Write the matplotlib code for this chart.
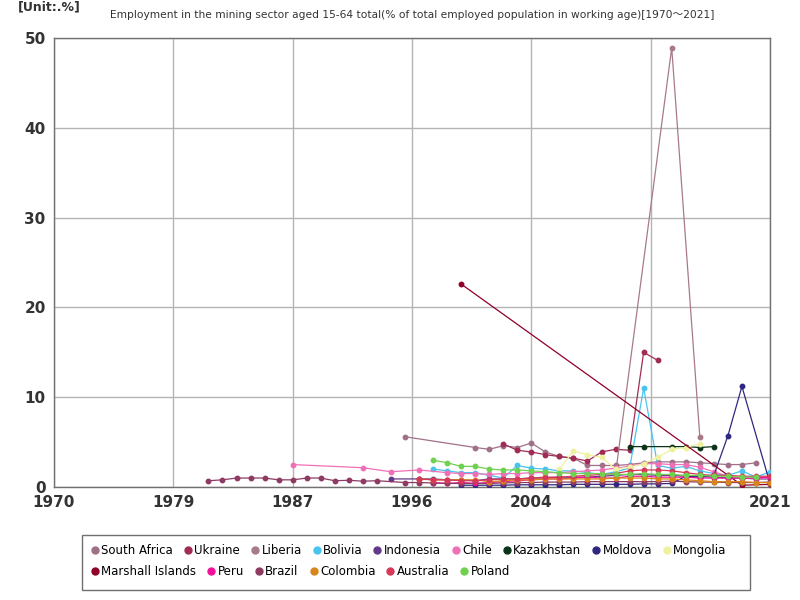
import matplotlib
matplotlib.use("Agg")
import matplotlib.pyplot as plt
from matplotlib.lines import Line2D
from matplotlib.patches import Rectangle

plt.rcParams['font.family'] = ['DejaVu Sans', 'Noto Sans CJK JP']

# data (percent of employed population, ages 15-64)
south_africa_years = [1995, 2000, 2001, 2002, 2003, 2004, 2005, 2006, 2007, 2008, 2009, 2010,
                      2011, 2012, 2013, 2014, 2015, 2016, 2017, 2018, 2019, 2020]
south_africa = [5.6, 4.4, 4.2, 4.6, 4.4, 4.9, 3.9, 3.4, 3.2, 2.4, 2.4, 2.4,
                2.5, 2.7, 2.8, 2.8, 2.8, 2.7, 2.6, 2.5, 2.5, 2.7]

ukraine_years = [2002, 2003, 2004, 2005, 2006, 2007, 2008, 2009, 2010, 2011, 2012, 2013]
ukraine = [4.8, 4.1, 3.9, 3.6, 3.4, 3.2, 2.9, 3.9, 4.2, 4.1, 15.0, 14.1]

liberia_years = [2010, 2014, 2016]
liberia = [1.5, 48.9, 5.6]

bolivia_years = list(range(1997, 2022))
bolivia = [2.0, 1.8, 1.6, 1.6, 1.3, 1.0, 2.4, 2.1, 2.0, 1.8, 1.8, 1.6, 1.4, 1.7, 2.1,
           11.0, 2.4, 2.1, 2.3, 1.8, 1.5, 1.3, 1.8, 1.1, 1.7]

indonesia_years = [1994, 1996, 1997, 1998, 1999, 2000, 2001, 2002, 2003, 2004, 2005, 2006,
                   2007, 2008, 2009, 2010, 2011, 2012, 2013, 2014, 2015, 2016, 2017, 2018,
                   2019, 2020, 2021]
indonesia = [0.9, 0.9, 0.9, 0.8, 0.8, 0.7, 0.9, 0.9, 0.9, 1.0, 1.0, 1.1,
             1.1, 1.1, 1.2, 1.3, 1.4, 1.4, 1.3, 1.3, 1.2, 1.2, 1.1, 1.0,
             1.0, 0.9, 0.9]

chile_years = [1987, 1992, 1994, 1996, 1998, 1999, 2000, 2001, 2002, 2003, 2004, 2005,
               2006, 2007, 2008, 2009, 2010, 2011, 2012, 2013, 2014, 2015, 2016, 2017,
               2018, 2019, 2020, 2021]
chile = [2.5, 2.15, 1.7, 1.9, 1.6, 1.5, 1.5, 1.4, 1.5, 1.5, 1.6, 1.6,
         1.6, 1.7, 1.8, 1.9, 2.1, 2.3, 2.6, 2.6, 2.5, 2.5, 2.2, 1.7,
         1.2, 1.0, 1.0, 1.0]

kazakhstan_years = [2011, 2012, 2014, 2015, 2016, 2017]
kazakhstan = [4.5, 4.5, 4.5, 4.5, 4.4, 4.5]

moldova_years = [1999, 2000, 2001, 2002, 2003, 2004, 2005, 2006, 2007, 2008, 2009, 2010,
                 2011, 2012, 2013, 2014, 2015, 2016, 2017, 2018, 2019, 2021]
moldova = [0.2, 0.2, 0.2, 0.2, 0.25, 0.25, 0.25, 0.25, 0.3, 0.3, 0.3, 0.3,
           0.3, 0.35, 0.35, 0.4, 1.2, 1.1, 1.3, 5.7, 11.2, 0.4]

mongolia_years = [2006, 2007, 2008, 2009, 2010, 2011, 2012, 2013, 2014, 2015, 2016]
mongolia = [2.0, 4.0, 3.6, 3.3, 2.0, 2.2, 2.6, 3.3, 4.2, 4.4, 4.8]

marshall_years = [1999, 2019, 2021]
marshall = [22.6, 0.2, 0.3]

peru_years = list(range(1997, 2022))
peru = [0.5, 0.4, 0.5, 0.4, 0.5, 0.6, 0.7, 0.8, 0.9, 0.9, 1.0, 1.1, 1.0, 1.0, 1.2,
        1.2, 1.1, 1.1, 1.1, 1.0, 1.0, 1.0, 1.0, 1.0, 1.1]

brazil_years = [1981, 1982, 1983, 1984, 1985, 1986, 1987, 1988, 1989, 1990, 1991, 1992,
                1993, 1995, 1996, 1997, 1998, 1999, 2001, 2002, 2003, 2004, 2005, 2006,
                2007, 2008, 2009, 2011, 2012, 2013, 2014, 2015, 2016, 2017, 2018, 2019,
                2020, 2021]
brazil = [0.7, 0.8, 1.0, 1.0, 1.0, 0.8, 0.8, 1.0, 1.0, 0.7, 0.75, 0.65,
          0.7, 0.5, 0.5, 0.45, 0.4, 0.4, 0.4, 0.45, 0.5, 0.5, 0.55, 0.55,
          0.55, 0.6, 0.6, 0.6, 0.6, 0.6, 0.65, 0.6, 0.55, 0.55, 0.5, 0.5,
          0.5, 0.55]

colombia_years = list(range(1996, 2022))
colombia = [0.9, 0.8, 0.8, 0.8, 0.8, 0.6, 0.7, 0.8, 0.8, 0.9, 0.9, 0.9, 0.9, 0.9, 1.0,
            1.0, 1.0, 0.9, 0.9, 0.8, 0.7, 0.6, 0.6, 0.6, 0.5, 0.5]

australia_years = list(range(1996, 2022))
australia = [0.9, 0.8, 0.8, 0.7, 0.7, 0.8, 0.9, 0.9, 1.0, 1.1, 1.1, 1.2, 1.3, 1.4, 1.5,
             1.8, 1.9, 1.9, 1.8, 1.6, 1.4, 1.3, 1.3, 1.2, 1.2, 1.2]

poland_years = list(range(1997, 2021))
poland = [3.0, 2.7, 2.3, 2.3, 2.0, 1.9, 1.9, 1.8, 1.7, 1.6, 1.5, 1.5, 1.5, 1.4, 1.4,
          1.5, 1.4, 1.4, 1.3, 1.3, 1.2, 1.2, 1.1, 1.1]

series = [
    ("South Africa", south_africa_years, south_africa, "#a07088"),
    ("Ukraine", ukraine_years, ukraine, "#a02c55"),
    ("Liberia", liberia_years, liberia, "#a87a86"),
    ("Bolivia", bolivia_years, bolivia, "#48c4ee"),
    ("Indonesia", indonesia_years, indonesia, "#643888"),
    ("Chile", chile_years, chile, "#f070b8"),
    ("Kazakhstan", kazakhstan_years, kazakhstan, "#0b3318"),
    ("Moldova", moldova_years, moldova, "#30287e"),
    ("Mongolia", mongolia_years, mongolia, "#eef2a0"),
    ("Marshall Islands", marshall_years, marshall, "#900028"),
    ("Peru", peru_years, peru, "#f0109a"),
    ("Brazil", brazil_years, brazil, "#8e3a62"),
    ("Colombia", colombia_years, colombia, "#d8861a"),
    ("Australia", australia_years, australia, "#d83858"),
    ("Poland", poland_years, poland, "#70d050"),
]

xtick_pos = [1970, 1978.5, 1987, 1995.5, 2004, 2012.5, 2021]
xtick_labels = ["1970", "1979", "1987", "1996", "2004", "2013", "2021"]
yticks = [0, 10, 20, 30, 40, 50]

fig = plt.figure(figsize=(8, 6), dpi=100)
ax = fig.add_axes([0.0675, 0.1883, 0.895, 0.7484])

for name, yrs, vals, col in series:
    ax.plot(yrs, vals, color=col, linewidth=0.9, marker='o', markersize=3.2, zorder=3)

ax.set_xlim(1970, 2021)
ax.set_ylim(0, 50)
ax.set_xticks(xtick_pos)
ax.set_xticklabels(xtick_labels, fontsize=11, fontweight='bold', color='#333333')
ax.set_yticks(yticks)
ax.set_yticklabels([str(v) for v in yticks], fontsize=11, fontweight='bold', color='#333333')
ax.tick_params(length=0, pad=6)
ax.grid(True, color='#b4b4b4', linewidth=1.0, zorder=0)
ax.set_axisbelow(True)
for s in ax.spines.values():
    s.set_color('#707070')
    s.set_linewidth(1.0)

fig.text(0.515, 0.975, "Employment in the mining sector aged 15-64 total(% of total employed population in working age)[1970～2021]",
         ha='center', va='center', fontsize=7.7, color='#333333')
fig.text(0.022, 0.988, "[Unit:.%]", ha='left', va='center', fontsize=9, fontweight='bold', color='#333333')

# legend: two free-flowing rows inside one frame
fig.patches.append(Rectangle((0.1025, 0.0167), 0.835, 0.0917, transform=fig.transFigure,
                             facecolor='white', edgecolor='#707070', linewidth=1.0))
handles = [Line2D([], [], linestyle='none', marker='o', markersize=5, color=c) for _, _, _, c in series]
labels = [n for n, _, _, _ in series]
for rows, ypos in ((range(0, 9), 0.0817), (range(9, 15), 0.0467)):
    leg = fig.legend([handles[i] for i in rows], [labels[i] for i in rows],
                     loc='center left', bbox_to_anchor=(0.104, ypos), ncol=len(rows),
                     fontsize=8.5, frameon=False, handletextpad=0.05,
                     handlelength=1.0, columnspacing=0.75, borderpad=0.0)

fig.savefig("out.png", dpi=100)
